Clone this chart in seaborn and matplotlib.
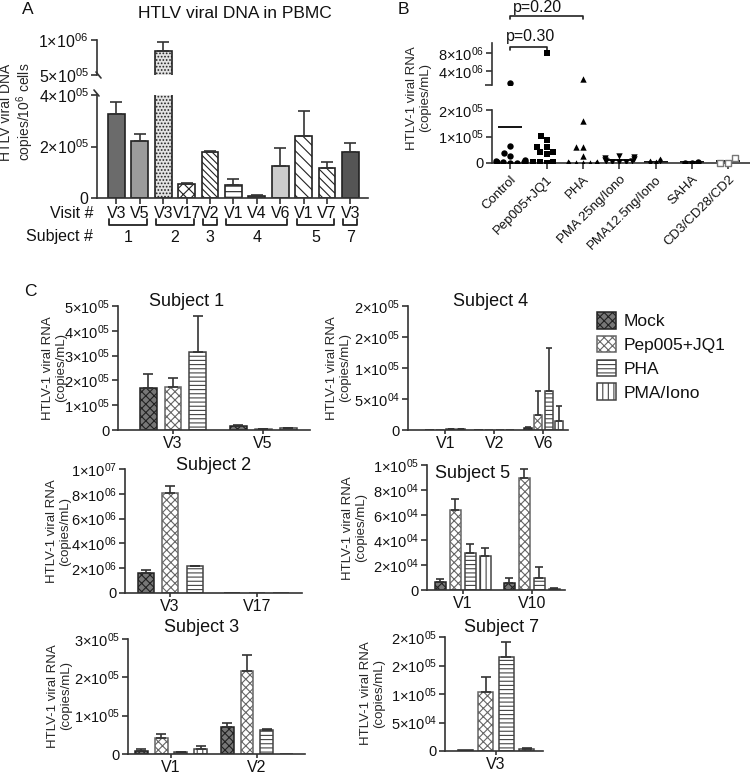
import matplotlib.pyplot as plt
import matplotlib.transforms as mtransforms
from matplotlib.lines import Line2D
from matplotlib.patches import Patch
from matplotlib.ticker import FuncFormatter
import numpy as np
import pandas as pd
import seaborn as sns

# ---- panel A: HTLV proviral DNA in PBMC, one bar per visit ----
a_subjects = ['1', '1', '2', '2', '3', '4', '4', '4', '5', '5', '7']
a_visits = ['V3', 'V5', 'V3', 'V17', 'V2', 'V1', 'V4', 'V6', 'V1', 'V7', 'V3']
a_dna = [3.26e5, 2.2e5, 8.43e5, 5.4e4, 1.78e5, 5.0e4, 9e3, 1.24e5, 2.41e5, 1.16e5, 1.8e5]
a_sem = [4.7e4, 2.8e4, 1.27e5, 3e3, 4e3, 2.4e4, 1e3, 7e4, 9.7e4, 2.4e4, 3.5e4]

# ---- panel B: viral RNA after ex vivo stimulation (each point one sample) ----
b_groups = ['Control', 'Pep005+JQ1', 'PHA', 'PMA 25ng/Iono', 'PMA12.5ng/Iono', 'SAHA', 'CD3/CD28/CD2']
b_control = [1.45e6, 6.5e4, 3.6e4, 2.6e4, 1.1e4, 8e3, 5e3, 4e3, 3e3, 2e3, 1e3, 500]
b_pep = [8.0e6, 1.03e5, 8.8e4, 6.2e4, 5.9e4, 4.3e4, 4.0e4, 3.4e4, 5e3, 3e3, 3e3, 1e3]
b_pha = [2.3e6, 1.6e5, 6.2e4, 6.0e4, 2.8e4, 3e3, 2e3, 1e3, 1e3, 500, 500, 300]
b_pma25 = [2.6e4, 2.2e4, 1.8e4, 1.5e4, 1.2e4, 8e3, 6e3, 4e3, 3e3, 2e3]
b_pma12 = [1.3e4, 2e3, 1.5e3]
b_saha = [5e3, 1e3, 1e3]
b_cd3 = [1.8e4, 1e3, 1e3]
b_pvalues = [('Control', 'Pep005+JQ1', 'p=0.30'), ('Control', 'PHA', 'p=0.20')]

# ---- panel C: viral RNA per subject, visit and treatment (mean, SEM) ----
treatments = ['Mock', 'Pep005+JQ1', 'PHA', 'PMA/Iono']

s1_visits = ['V3', 'V5']
s1_mean = {'Mock': [1.69e5, 1.6e4], 'Pep005+JQ1': [1.73e5, 5e3], 'PHA': [3.15e5, 8e3]}
s1_sem = {'Mock': [5.6e4, 3e3], 'Pep005+JQ1': [3.6e4, 1e3], 'PHA': [1.45e5, 1e3]}

s2_visits = ['V3', 'V17']
s2_mean = {'Mock': [1.6e6, 0], 'Pep005+JQ1': [8.1e6, 0], 'PHA': [2.15e6, 0]}
s2_sem = {'Mock': [2.5e5, 0], 'Pep005+JQ1': [5.5e5, 0], 'PHA': [3e4, 0]}

s3_visits = ['V1', 'V2']
s3_mean = {'Mock': [8e3, 7.0e4], 'Pep005+JQ1': [4.2e4, 2.17e5], 'PHA': [4e3, 6.2e4], 'PMA/Iono': [1.2e4, 0]}
s3_sem = {'Mock': [6e3, 1.2e4], 'Pep005+JQ1': [9e3, 4.1e4], 'PHA': [1e3, 2e3], 'PMA/Iono': [9e3, 0]}

s4_visits = ['V1', 'V2', 'V6']
s4_mean = {'Mock': [0, 0, 3.7e3], 'Pep005+JQ1': [0, 0, 2.5e4], 'PHA': [1.5e3, 0, 6.3e4], 'PMA/Iono': [1.5e3, 0, 1.45e4]}
s4_sem = {'Mock': [0, 0, 1e3], 'Pep005+JQ1': [0, 0, 3.8e4], 'PHA': [300, 0, 6.9e4], 'PMA/Iono': [300, 0, 2.45e4]}

s5_visits = ['V1', 'V10']
s5_mean = {'Mock': [6.2e3, 5.3e3], 'Pep005+JQ1': [6.4e4, 9.0e4], 'PHA': [2.98e4, 9.9e3], 'PMA/Iono': [2.74e4, 1e3]}
s5_sem = {'Mock': [2.4e3, 4e3], 'Pep005+JQ1': [9e3, 7e3], 'PHA': [7.2e3, 8.7e3], 'PMA/Iono': [6.6e3, 500]}

s7_visits = ['V3']
s7_mean = {'Mock': [1e3], 'Pep005+JQ1': [1.04e5], 'PHA': [1.65e5], 'PMA/Iono': [3.5e3]}
s7_sem = {'Mock': [0], 'Pep005+JQ1': [2.6e4], 'PHA': [2.7e4], 'PMA/Iono': [1.5e3]}

# styles
a_styles = [('#6b6b6b', ''), ('#9b9b9b', ''), ('#e2e2e2', '.....'), ('white', 'xxx'),
            ('white', '\\\\\\\\\\'), ('white', '---'), ('#888888', ''), ('#cccccc', ''),
            ('white', '\\\\\\'), ('white', '\\\\\\\\'), ('#555555', '')]
c_styles = {'Mock': ('#777777', '#222222', 'xxxx'),
            'Pep005+JQ1': ('white', '#666666', 'xxxx'),
            'PHA': ('white', '#444444', '----'),
            'PMA/Iono': ('white', '#444444', '|||')}
b_markers = ['o', 's', '^', 'v', 'd', 'o', 's']
b_open = [False, False, False, False, False, True, True]

sns.set_style('ticks')
plt.rcParams['font.family'] = ['Liberation Sans', 'DejaVu Sans']
plt.rcParams['mathtext.fontset'] = 'custom'
plt.rcParams['mathtext.rm'] = 'Liberation Sans'
plt.rcParams['mathtext.it'] = 'Liberation Sans:italic'
plt.rcParams['mathtext.bf'] = 'Liberation Sans:bold'
plt.rcParams['mathtext.default'] = 'regular'
plt.rcParams['hatch.linewidth'] = 0.8
plt.rcParams['axes.linewidth'] = 1.2
plt.rcParams['axes.edgecolor'] = '#333333'
plt.rcParams['xtick.major.width'] = 1.2
plt.rcParams['ytick.major.width'] = 1.2
plt.rcParams['xtick.major.size'] = 4
plt.rcParams['ytick.major.size'] = 4
plt.rcParams['xtick.color'] = '#333333'
plt.rcParams['ytick.color'] = '#333333'
plt.rcParams['text.color'] = '#111111'
plt.rcParams['xtick.labelcolor'] = '#111111'
plt.rcParams['ytick.labelcolor'] = '#111111'

W, H = 750, 775
fig = plt.figure(figsize=(W / 100, H / 100), dpi=100, facecolor='white')


def box(x0, y0, x1, y1):
    return [x0 / W, 1 - y1 / H, (x1 - x0) / W, (y1 - y0) / H]


def fx(x):
    return x / W


def fy(y):
    return 1 - y / H


def sci_label(v, pos=None):
    # GraphPad style, mantissa without decimals
    if v <= 0:
        return '0'
    e = int(np.floor(np.log10(v) + 1e-9))
    m = int(v / 10 ** e + 0.5)
    if m == 10:
        m, e = 1, e + 1
    return f'{m}×10$^{{{e:02d}}}$'


def place_ylabel(ax, text, x_right, y_mid, size):
    ax.set_ylabel(text, fontsize=size, linespacing=1.1)
    ax.yaxis.set_label_coords(fx(x_right), fy(y_mid), transform=fig.transFigure)


def upper_errorbar(ax, bar, err, cap):
    if err > 0:
        ax.errorbar(bar.get_x() + bar.get_width() / 2, bar.get_height(), yerr=[[0], [err]],
                    fmt='none', ecolor='#333333', elinewidth=1.2, capsize=cap, capthick=1.2)


# ================= panel A =================
a_keys = [f'{s}-{v}' for s, v in zip(a_subjects, a_visits)]
axA_top = fig.add_axes(box(97, 40, 368, 75))
axA = fig.add_axes(box(97, 95, 368, 198))
for ax in (axA_top, axA):
    sns.barplot(x=a_keys, y=a_dna, order=a_keys, color='white', width=0.72,
                errorbar=None, saturation=1, ax=ax)
    bars = list(ax.containers[0])
    for bar, (face, hatch), err in zip(bars, a_styles, a_sem):
        bar.set_facecolor(face)
        bar.set_hatch(hatch)
        bar.set_edgecolor('#222222')
        bar.set_linewidth(1.2)
        upper_errorbar(ax, bar, err, 4)
    ax.set_xlim(-0.83, 10.75)
    ax.yaxis.set_major_formatter(FuncFormatter(sci_label))
    ax.tick_params(axis='y', labelsize=11.5, pad=2)
    sns.despine(ax=ax)
axA_top.set_ylim(5e5, 1e6)
axA_top.set_yticks([5e5, 1e6])
axA_top.spines['bottom'].set_visible(False)
axA_top.tick_params(axis='x', bottom=False, labelbottom=False)
axA.set_ylim(0, 4e5)
axA.set_yticks([0, 2e5, 4e5])
axA.set_xticks(range(len(a_visits)))
axA.set_xticklabels(a_visits, fontsize=11.5)
axA.tick_params(axis='x', pad=2)
place_ylabel(axA, 'HTLV viral DNA\ncopies/10$^6$ cells', 36, 112, 10)
fig.text(fx(235), fy(14), 'HTLV viral DNA in PBMC', ha='center', va='center', fontsize=12.5)
# axis break marks
for (x0, y0, x1, y1) in [(94, 90, 99, 96), (96, 72, 101, 78)]:
    fig.add_artist(Line2D([fx(x0), fx(x1)], [fy(y0), fy(y1)], color='#333333', lw=1.2))

# subject brackets under the visit labels
trA = mtransforms.blended_transform_factory(axA.transData, fig.transFigure)
centers = [b.get_x() + b.get_width() / 2 for b in axA.containers[0]]
start = 0
for i in range(1, len(a_subjects) + 1):
    if i == len(a_subjects) or a_subjects[i] != a_subjects[start]:
        x0, x1 = centers[start] - 0.3, centers[i - 1] + 0.3
        axA.plot([x0, x0, x1, x1], [fy(219), fy(224.5), fy(224.5), fy(219)], color='#222222',
                 lw=1.3, transform=trA, clip_on=False)
        axA.text((x0 + x1) / 2, fy(237), a_subjects[start], transform=trA, ha='center',
                 va='center', fontsize=11.5)
        start = i
fig.text(fx(93), fy(213), 'Visit #', ha='right', va='center', fontsize=11.5)
fig.text(fx(93), fy(237), 'Subject #', ha='right', va='center', fontsize=11.5)

# ================= panel B =================
b_values = [b_control, b_pep, b_pha, b_pma25, b_pma12, b_saha, b_cd3]
axB_top = fig.add_axes(box(492, 43, 750, 85))
axB = fig.add_axes(box(492, 110, 750, 163))
b_low_max, b_high_min = 2e5, 9e5
for name, vals, mk, hollow in zip(b_groups, b_values, b_markers, b_open):
    for ax, sel in ((axB, [v for v in vals if v <= b_low_max]),
                    (axB_top, [v for v in vals if v >= b_high_min])):
        if not sel:
            continue
        sns.swarmplot(x=[name] * len(sel), y=sel, order=b_groups, marker=mk,
                      size=4.6 if mk != 'd' else 4.0, color='black', warn_thresh=1, ax=ax)
        coll = ax.collections[-1]
        coll.set_clip_on(False)
        if hollow:
            coll.set_facecolor('white')
            coll.set_edgecolor('#777777')
            coll.set_linewidth(1.0)
    pos = b_groups.index(name)
    for ax in (axB, axB_top):
        ax.hlines(np.mean(vals), pos - 0.33, pos + 0.33, colors='black', lw=1.3)

for ax in (axB_top, axB):
    ax.set_xlim(-0.5, 6.6)
    ax.yaxis.set_major_formatter(FuncFormatter(sci_label))
    ax.tick_params(axis='y', labelsize=10.5, pad=2)
    sns.despine(ax=ax)
axB_top.set_ylim(b_high_min, 1.02e7)
axB_top.set_yticks([4e6, 8e6])
axB_top.set_yticks([b_high_min], minor=True)
axB_top.tick_params(axis='y', which='minor', length=5, width=1.2, color='#333333')
axB_top.spines['bottom'].set_visible(False)
axB_top.tick_params(axis='x', bottom=False, labelbottom=False)
axB_top.set_ylabel('')
axB.set_ylim(0, b_low_max)
axB.set_yticks([0, 1e5, 2e5])
axB.set_xticks(range(len(b_groups)))
axB.set_xticklabels(b_groups, rotation=45, ha='right', rotation_mode='anchor', fontsize=9.5)
place_ylabel(axB, 'HTLV-1 viral RNA\n(copies/mL)', 431, 98, 9.5)

trB = mtransforms.blended_transform_factory(axB_top.transData, fig.transFigure)
for (g0, g1, label), (yl, yt) in zip(b_pvalues, [(47, 44), (16, 15)]):
    i0, i1 = b_groups.index(g0), b_groups.index(g1)
    axB_top.plot([i0, i0, i1, i1], [fy(yl + 3), fy(yl), fy(yl), fy(yl + 3)], color='#222222',
                 lw=1.2, transform=trB, clip_on=False)
    axB_top.text(i0 + 0.55 * (i1 - i0) if i1 - i0 == 1 else i0 + 0.75, fy(yt), label,
                 transform=trB, ha='center', va='bottom', fontsize=11.5)

# ================= panel C =================


def subject_panel(rect, visits, means, sems, ylim, yticks, xlim, width, gap, cap,
                  title, title_xy, ylab_xy):
    ax = fig.add_axes(box(*rect))
    hue_order = [t for t in treatments if t in means]
    rows = [(v, t, means[t][i]) for t in hue_order for i, v in enumerate(visits)]
    df = pd.DataFrame(rows, columns=['visit', 'treatment', 'rna'])
    sns.barplot(data=df, x='visit', y='rna', hue='treatment', order=visits,
                hue_order=hue_order, errorbar=None, width=width, gap=gap,
                legend=False, saturation=1, ax=ax)
    conts = list(ax.containers)
    for t, cont in zip(hue_order, conts):
        face, edge, hatch = c_styles[t]
        for bar, err in zip(cont, sems[t]):
            bar.set_facecolor(face)
            bar.set_edgecolor(edge)
            bar.set_hatch(hatch)
            bar.set_linewidth(1.1)
            upper_errorbar(ax, bar, err, cap)
    ax.set_xlim(*xlim)
    ax.set_ylim(*ylim)
    ax.set_yticks(yticks)
    ax.yaxis.set_major_formatter(FuncFormatter(sci_label))
    ax.tick_params(axis='y', labelsize=10.5, pad=2)
    ax.tick_params(axis='x', labelsize=11.5, pad=1, length=3)
    ax.set_xlabel('')
    sns.despine(ax=ax)
    place_ylabel(ax, 'HTLV-1 viral RNA\n(copies/mL)', ylab_xy[0], ylab_xy[1], 9.5)
    fig.text(fx(title_xy[0]), fy(title_xy[1]), title, ha='center', va='center', fontsize=13)
    return ax


subject_panel((118, 306, 310, 430), s1_visits, s1_mean, s1_sem, (0, 5e5),
              [0, 1e5, 2e5, 3e5, 4e5, 5e5], (-0.61, 1.52), 0.83, 0.32, 3.5,
              'Subject 1', (187, 302), (67, 368))
subject_panel((125, 469, 302, 593), s2_visits, s2_mean, s2_sem, (0, 1e7),
              [0, 2e6, 4e6, 6e6, 8e6, 1e7], (-0.52, 1.52), 0.85, 0.35, 3.5,
              'Subject 2', (214, 465), (71, 531))
subject_panel((128, 639, 305, 754), s3_visits, s3_mean, s3_sem, (0, 3e5),
              [0, 1e5, 2e5, 3e5], (-0.5, 1.56), 0.92, 0.35, 3.5,
              'Subject 3', (202, 628), (72, 696))
subject_panel((408, 306, 568, 430), s4_visits, s4_mean, s4_sem, (0, 2e5),
              [0, 5e4, 1e5, 1.5e5, 2e5], (-0.76, 2.5), 0.86, 0.22, 2.5,
              'Subject 4', (491, 301), (351, 368))
subject_panel((427, 465, 565, 590), s5_visits, s5_mean, s5_sem, (0, 1e5),
              [0, 2e4, 4e4, 6e4, 8e4, 1e5], (-0.52, 1.48), 0.87, 0.25, 3,
              'Subject 5', (473, 473), (367, 528))
subject_panel((445, 637, 543, 751), s7_visits, s7_mean, s7_sem, (0, 2e5),
              [0, 5e4, 1e5, 1.5e5, 2e5], (-0.51, 0.47), 0.82, 0.25, 3.5,
              'Subject 7', (502, 627), (385, 693))

handles = [Patch(facecolor=c_styles[t][0], edgecolor=c_styles[t][1], hatch=c_styles[t][2],
                 linewidth=1.1, label=t) for t in treatments]
fig.legend(handles=handles, loc='upper left', bbox_to_anchor=(fx(597), fy(312)),
           frameon=False, fontsize=12.5, handlelength=1.1, handleheight=1.1,
           handletextpad=0.45, labelspacing=0.38, borderpad=0, borderaxespad=0)

# panel letters
fig.text(fx(28), fy(10), 'A', ha='center', va='center', fontsize=12.5)
fig.text(fx(403), fy(9), 'B', ha='center', va='center', fontsize=12.5)
fig.text(fx(30), fy(292), 'C', ha='center', va='center', fontsize=12.5)

fig.savefig('out.png', dpi=100, facecolor='white')
